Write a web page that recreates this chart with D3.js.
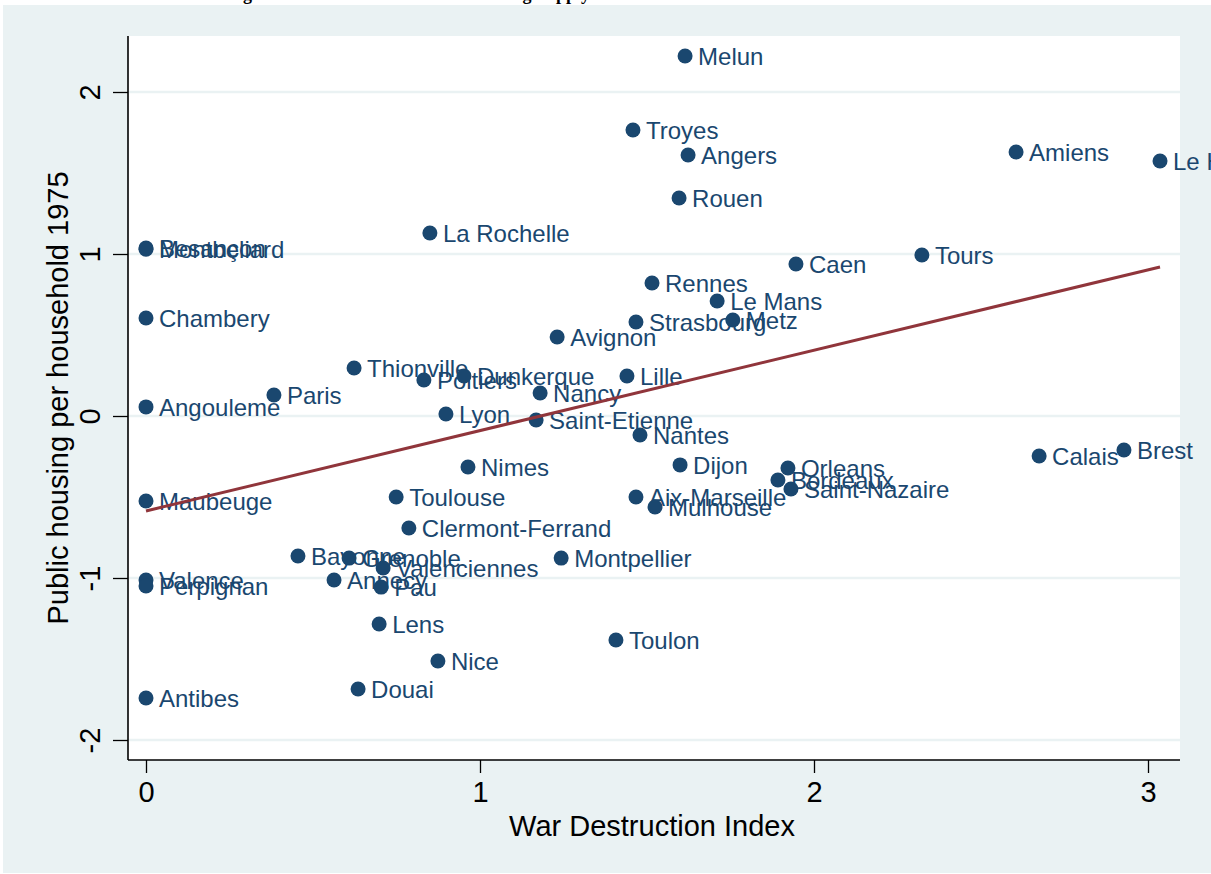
<!DOCTYPE html>
<html>
<head>
<meta charset="utf-8">
<script src="https://cdn.jsdelivr.net/npm/d3@7"></script>
<style>
  body { margin: 0; background: #fff; }
  text { font-family: "Liberation Sans", Arial, sans-serif; }
</style>
</head>
<body>
<svg width="1211" height="874"></svg>
<script>
// cities, war destruction index (x) and public housing per household 1975 (y)
var cities = ["Melun", "Troyes", "Angers", "Rouen", "Amiens", "Le Havre", "La Rochelle",
  "Besançon", "Montbeliard", "Chambery", "Caen", "Tours", "Rennes", "Le Mans", "Metz",
  "Strasbourg", "Avignon", "Thionville", "Poitiers", "Dunkerque", "Nancy", "Lille", "Paris",
  "Angouleme", "Lyon", "Saint-Etienne", "Nantes", "Brest", "Calais", "Nimes", "Dijon",
  "Orleans", "Bordeaux", "Saint-Nazaire", "Aix-Marseille", "Mulhouse", "Maubeuge",
  "Toulouse", "Clermont-Ferrand", "Bayonne", "Grenoble", "Valenciennes", "Annecy", "Pau",
  "Montpellier", "Valence", "Perpignan", "Lens", "Nice", "Douai", "Antibes", "Toulon"];
var warIndex = [1.614, 1.458, 1.623, 1.596, 2.605, 3.036, 0.850,
  0, 0, 0, 1.946, 2.323, 1.515, 1.710, 1.757,
  1.467, 1.231, 0.623, 0.832, 0.952, 1.180, 1.440, 0.383,
  0, 0.898, 1.168, 1.479, 2.928, 2.674, 0.964, 1.599,
  1.922, 1.892, 1.931, 1.467, 1.524, 0,
  0.749, 0.787, 0.455, 0.608, 0.710, 0.563, 0.704,
  1.243, 0, 0, 0.698, 0.874, 0.635, 0, 1.407];
var housing = [2.222, 1.765, 1.611, 1.346, 1.630, 1.574, 1.130,
  1.037, 1.030, 0.605, 0.938, 0.994, 0.821, 0.710, 0.593,
  0.580, 0.488, 0.296, 0.222, 0.247, 0.142, 0.247, 0.130,
  0.056, 0.012, -0.025, -0.117, -0.210, -0.247, -0.315, -0.302,
  -0.321, -0.395, -0.451, -0.500, -0.562, -0.525,
  -0.500, -0.691, -0.864, -0.877, -0.938, -1.012, -1.056,
  -0.877, -1.012, -1.049, -1.284, -1.512, -1.685, -1.741, -1.383];

// fitted values (linear fit) at the ends of the x range
var fitX = [0, 3.036];
var fitY = [-0.586, 0.920];

var xTicks = [0, 1, 2, 3];
var yTicks = [-2, -1, 0, 1, 2];

var svg = d3.select("svg");
var bg = "#eaf2f3", navy = "#1a476f", maroon = "#90353b";

// outer graph region
svg.append("rect").attr("x", 3).attr("y", 5).attr("width", 1240).attr("height", 868).attr("fill", bg);

// cut-off title at the very top
svg.append("text")
  .attr("x", 227).attr("y", -0.5)
  .style("font-family", "'Liberation Serif', 'Times New Roman', serif")
  .style("font-weight", "bold").style("font-size", "18px")
  .text("Figure 3: War Destruction and Housing Supply");

var plot = { left: 128, right: 1180, top: 36, bottom: 760 };

var x = d3.scaleLinear().domain([0, 1]).range([146, 480]);
var y = d3.scaleLinear().domain([0, 1]).range([416, 254]);

svg.append("rect")
  .attr("x", plot.left).attr("y", plot.top)
  .attr("width", plot.right - plot.left).attr("height", plot.bottom - plot.top)
  .attr("fill", "#fff");

// gridlines
svg.append("g").selectAll("line").data(yTicks).enter().append("line")
  .attr("x1", plot.left).attr("x2", plot.right)
  .attr("y1", function(d) { return y(d); }).attr("y2", function(d) { return y(d); })
  .attr("stroke", bg).attr("stroke-width", 2.5);

// plain hyphen for negatives, like the original
var fmt = function(d) { return String(d); };

// axes
var xAxis = svg.append("g").attr("transform", "translate(0," + plot.bottom + ")")
  .call(d3.axisBottom(x).tickValues(xTicks).tickSize(13).tickPadding(8).tickFormat(fmt));
xAxis.select(".domain").attr("d", "M" + plot.left + ",0H" + plot.right).attr("stroke-width", 1.6);
xAxis.selectAll(".tick line").attr("stroke-width", 1.3);
xAxis.selectAll(".tick text").style("font-size", "29px").attr("fill", "#000");

var yAxis = svg.append("g").attr("transform", "translate(" + plot.left + ",0)")
  .call(d3.axisLeft(y).tickValues(yTicks).tickSize(15).tickFormat(fmt));
yAxis.select(".domain").attr("d", "M0," + plot.top + "V" + plot.bottom).attr("stroke-width", 1.6);
yAxis.selectAll(".tick line").attr("stroke-width", 1.3);
yAxis.selectAll(".tick text")
  .style("font-size", "29px").attr("fill", "#000")
  .attr("text-anchor", "middle").attr("dy", null).attr("x", null)
  .attr("transform", "translate(-38,0) rotate(-90)")
  .attr("y", 0).attr("dominant-baseline", "central");

// axis titles
svg.append("text")
  .attr("x", 652).attr("y", 836)
  .attr("text-anchor", "middle").style("font-size", "29px")
  .text("War Destruction Index");
svg.append("text")
  .attr("transform", "translate(68,398) rotate(-90)")
  .attr("text-anchor", "middle").style("font-size", "29px")
  .text("Public housing per household 1975");

var pts = cities.map(function(c, i) { return { name: c, x: warIndex[i], y: housing[i] }; });

// markers
svg.append("g").selectAll("circle").data(pts).enter().append("circle")
  .attr("cx", function(d) { return x(d.x); })
  .attr("cy", function(d) { return y(d.y); })
  .attr("r", 7.5).attr("fill", navy);

// marker labels
svg.append("g").selectAll("text").data(pts).enter().append("text")
  .attr("x", function(d) { return x(d.x) + 13; })
  .attr("y", function(d) { return y(d.y); })
  .attr("dy", "0.36em")
  .style("font-size", "24px").attr("fill", navy)
  .text(function(d) { return d.name; });

// fitted line
svg.append("path")
  .datum(fitX.map(function(v, i) { return [v, fitY[i]]; }))
  .attr("d", d3.line().x(function(d) { return x(d[0]); }).y(function(d) { return y(d[1]); }))
  .attr("fill", "none").attr("stroke", maroon).attr("stroke-width", 3);
</script>
</body>
</html>
